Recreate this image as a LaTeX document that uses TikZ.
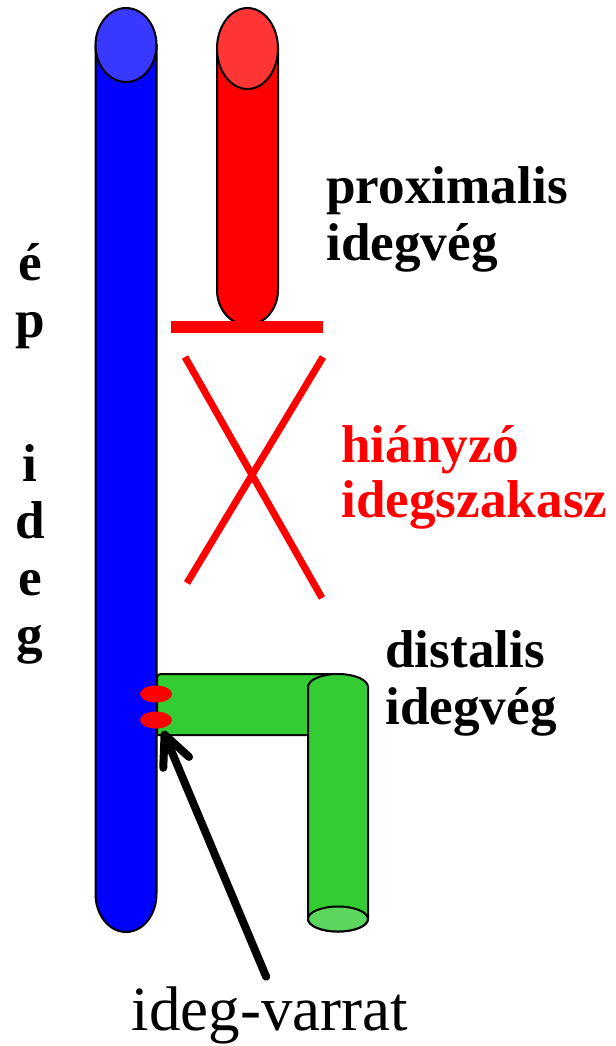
\documentclass[tikz,border=0pt]{standalone}
\usepackage{fontspec}
\setmainfont{Liberation Serif}
\usepackage{tikz}
\usetikzlibrary{positioning, arrows.meta}
\definecolor{nerveBlue}{HTML}{0000FF}
\definecolor{capBlue}{HTML}{3838FF}
\definecolor{nerveRed}{HTML}{FF0000}
\definecolor{capRed}{HTML}{FF3535}
\definecolor{nerveGreen}{HTML}{33CC33}
\definecolor{capGreen}{HTML}{5DD65D}

\begin{document}
\begin{tikzpicture}[
      x=0.5pt, y=-0.5pt,
      tube/.style={draw=black, line width=1pt},
      lbl/.style={font=\fontsize{26.6}{28.5}\selectfont\bfseries, align=left, inner sep=0pt, anchor=base west},
      cutbar/.style={draw=nerveRed, line width=6pt},
      cross/.style={draw=nerveRed, line width=3.5pt},
      stitch/.style={fill=nerveRed},
      pointer/.style={line width=4pt, line cap=round, -{Straight Barb[length=15pt, width=14pt, round]}},
    ]
    \useasboundingbox (0,0) rectangle (616,1046);

    % intact nerve (blue)
    \draw[tube, fill=nerveBlue] (95.5,45) -- (95.5,894)
      arc[start angle=180, end angle=0, x radius=30.5, y radius=38] -- (156.5,45) -- cycle;
    \draw[tube, fill=capBlue] (126,45) ellipse [x radius=30.5, y radius=37];

    % proximal stump (red)
    \draw[tube, fill=nerveRed] (217,48) -- (217,290)
      arc[start angle=180, end angle=0, x radius=30.5, y radius=35] -- (278,48) -- cycle;
    \draw[tube, fill=capRed] (247.5,48.5) ellipse [x radius=30.5, y radius=40.5];
    \draw[cutbar] (171,327) -- (323,327);

    % missing segment
    \draw[cross] (185,357) -- (322,598);
    \draw[cross] (323,357) -- (187,583);

    % distal stump (green)
    \draw[tube, fill=nerveGreen] (157,735) -- (157,682) .. controls (157,674) .. (165,674)
      -- (340,674) -- (340,735) -- cycle;
    \draw[tube, fill=nerveGreen] (308,687)
      arc[start angle=180, end angle=360, x radius=30, y radius=13] -- (368,919)
      arc[start angle=0, end angle=180, x radius=30, y radius=12.5] -- cycle;
    \draw[tube, fill=capGreen] (338,919) ellipse [x radius=30, y radius=12.5];

    % sutures
    \fill[stitch] (156,694) ellipse [x radius=16, y radius=8.5];
    \fill[stitch] (156,720) ellipse [x radius=16, y radius=8.5];

    % labels (base anchor sits on the last line)
    \node[lbl, align=center, anchor=base] (intact) at (30,652) {é\\p\\[43.5pt]i\\d\\e\\g};
    \node[lbl] (proxLabel) at (326,260) {proximalis\\idegvég};
    \node[lbl, text=nerveRed, font=\fontsize{26.6}{27.5}\selectfont\bfseries] (gapLabel) at (341,517) {hiányzó\\idegszakasz};
    \node[lbl] (distLabel) at (385,724) {distalis\\idegvég};
    \node[font=\fontsize{31.5}{36}\selectfont, inner sep=0pt, anchor=base] (varrat) at (270,1030) {ideg-varrat};

    \coordinate (stitchTip) at (163,731);
    \draw[pointer, shorten <=5pt] (varrat.north) -- (stitchTip);
  \end{tikzpicture}
\end{document}
